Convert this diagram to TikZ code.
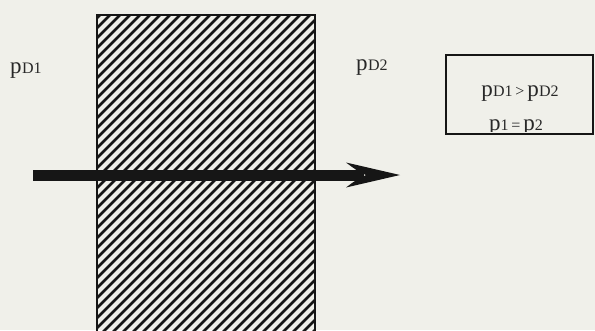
\documentclass[tikz,border=0pt]{standalone}
\usepackage{fontspec}
\setmainfont{Liberation Serif}
\definecolor{bg}{RGB}{240,240,234}
\definecolor{ink}{RGB}{22,22,22}
\definecolor{txt}{RGB}{40,40,40}
\newcommand{\sm}[1]{{\fontsize{16}{16}\selectfont #1}}
\newcommand{\bp}{{\fontsize{23}{23}\selectfont p}}
\newcommand{\pdd}[1]{\bp\kern0.3pt\sm{D#1}}
\begin{document}
\begin{tikzpicture}[x=1pt,y=-1pt,
  lbl/.style={inner sep=0pt, anchor=base west, text=txt},
  hatch/.style={ink, line width=2.6pt},
  edge/.style={ink, line width=1.8pt}]
\fill[bg] (0,0) rectangle (595,330);
\useasboundingbox (0,0) rectangle (595,330);
% hatched wall
\begin{scope}
  \clip (97,15) rectangle (315,335);
  \foreach \x in {-230,-220,...,320} \draw[hatch] (\x,335) -- ++(330,-330);
\end{scope}
\draw[edge] (97,340) -- (97,15) -- (315,15) -- (315,340);
% labels
\node[lbl] (pd1) at (10,73) {\pdd{1}};
\node[lbl] (pd2) at (356,70) {\pdd{2}};
% box
\coordinate (bnw) at (446,55);
\coordinate (bse) at (593,134);
\begin{scope}
  \clip (446,55) rectangle (593,131);
  \node[lbl, anchor=base] (rel1) at (520,96) {\pdd{1}\;\sm{>}\;\pdd{2}};
  \node[lbl, anchor=base] (rel2) at (516,130.5) {\bp\sm{1}\;\sm{=}\;\bp\sm{2}};
\end{scope}
\draw[ink, line width=1.5pt] (bnw) rectangle (bse);
% arrow
\coordinate (a0) at (33,175);
\coordinate (a1) at (400,175);
\draw[ink, line width=11pt] (a0) -- (364,175);
\fill[ink] (a1) -- (346,162.5) .. controls (356,170) .. (366,175) .. controls (356,180) .. (346,187.5) -- cycle;
\end{tikzpicture}
\end{document}
